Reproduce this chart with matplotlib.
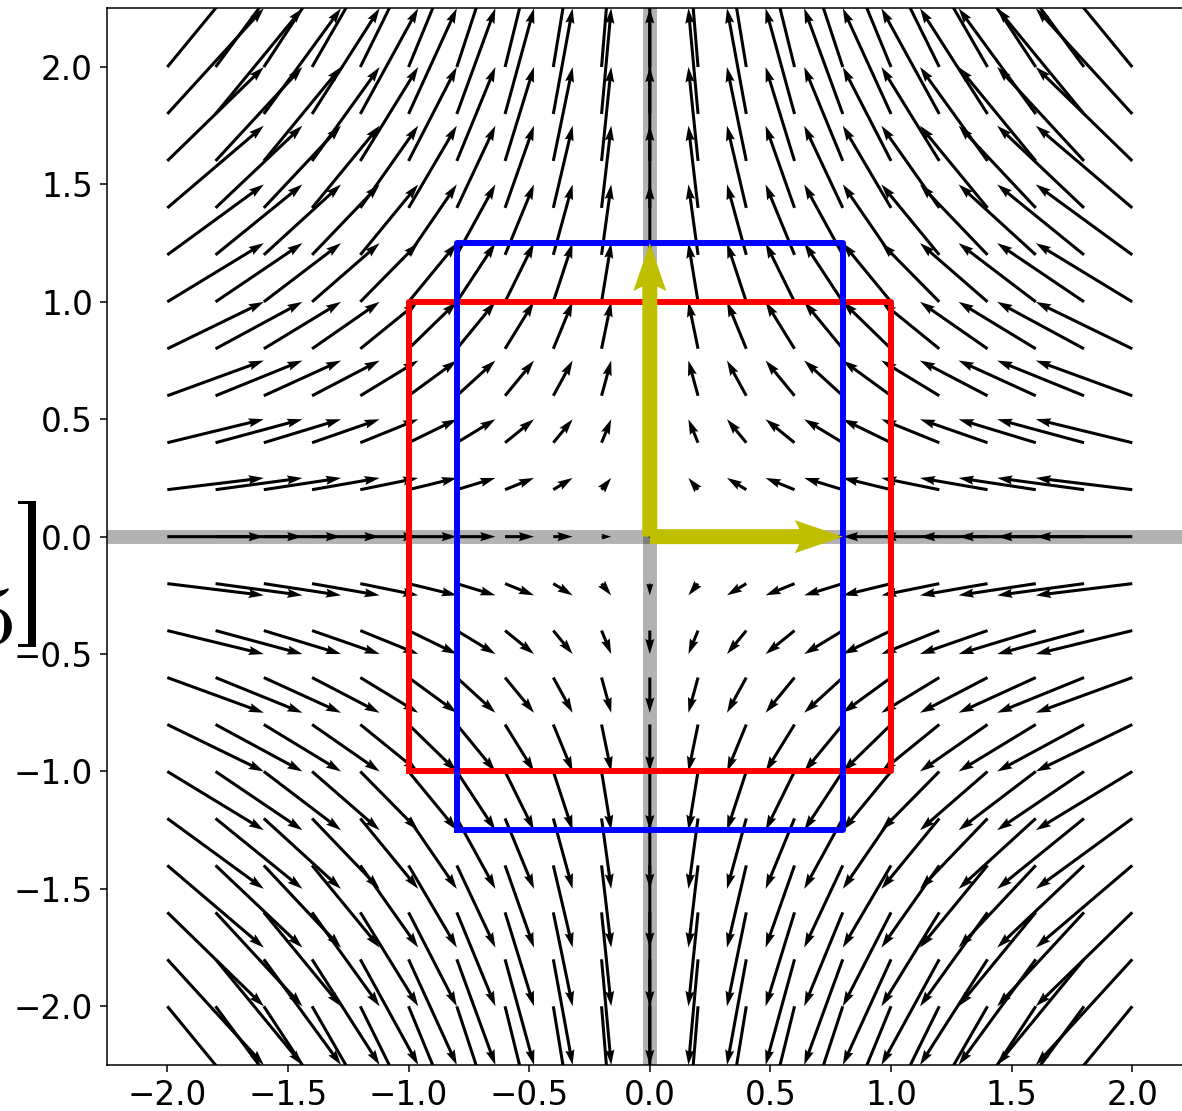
import matplotlib
matplotlib.use("Agg")
import matplotlib.pyplot as plt
import numpy as np
from matplotlib.patches import Rectangle

# linear map shown in the picture
matrix = [[0.8, 0.0],
          [0.0, 1.25]]

# quiver grid positions (same along x and y)
grid_ticks = [-2.0, -1.8, -1.6, -1.4, -1.2, -1.0, -0.8, -0.6, -0.4, -0.2, 0.0,
              0.2, 0.4, 0.6, 0.8, 1.0, 1.2, 1.4, 1.6, 1.8, 2.0]

# unit square corners (red) and its image (blue)
square_x = [-1, 1, 1, -1, -1]
square_y = [-1, -1, 1, 1, -1]

tick_values = [-2.0, -1.5, -1.0, -0.5, 0.0, 0.5, 1.0, 1.5, 2.0]

A = np.array(matrix)
X, Y = np.meshgrid(grid_ticks, grid_ticks)
pts = np.stack([X.ravel(), Y.ravel()])
moved = A @ pts
U = (moved[0] - pts[0]).reshape(X.shape)
V = (moved[1] - pts[1]).reshape(X.shape)

img = A @ np.array([square_x, square_y])

W, H = 1182, 1111
fig = plt.figure(figsize=(W / 100, H / 100), dpi=100)
ax = fig.add_axes([107 / W, 46 / H, 1085.6 / W, 1056.7 / H])

ax.axhline(0, color='k', alpha=0.3, lw=10, zorder=1)
ax.axvline(0, color='k', alpha=0.3, lw=10, zorder=1)

ax.quiver(X, Y, U, V, angles='xy', scale_units='xy', scale=1,
          width=0.0028, color='k', zorder=2)

ax.plot(square_x, square_y, color='r', lw=4.3, zorder=3)
ax.plot(img[0], img[1], color='b', lw=4.3, zorder=4)

# images of the basis vectors
ax.quiver([0, 0], [0, 0], A[0], A[1], color='y', angles='xy',
          scale_units='xy', scale=1, width=0.0138,
          headwidth=2.2, headlength=3.2, headaxislength=2.9, zorder=5)

ax.set_xlim(-2.25, 2.25)
ax.set_ylim(-2.25, 2.25)
ax.set_xticks(tick_values)
ax.set_yticks(tick_values)
ax.tick_params(labelsize=23.5, length=4.7, width=1.1, pad=5.5)
for s in ax.spines.values():
    s.set_linewidth(1.1)

# clipped piece of a matrix printed to the left
plt.rcParams['mathtext.fontset'] = 'cm'
fig.text(13 / W, 1 - 643 / H, r'$5$', fontsize=59, ha='right', va='baseline')
for (x0, y0, w, h) in [(28, 501, 8, 146), (18, 501, 18, 3), (18, 644, 18, 3)]:
    fig.add_artist(Rectangle((x0 / W, 1 - (y0 + h) / H), w / W, h / H,
                             transform=fig.transFigure, color='k', lw=0))

fig.savefig('out.png', dpi=100)
